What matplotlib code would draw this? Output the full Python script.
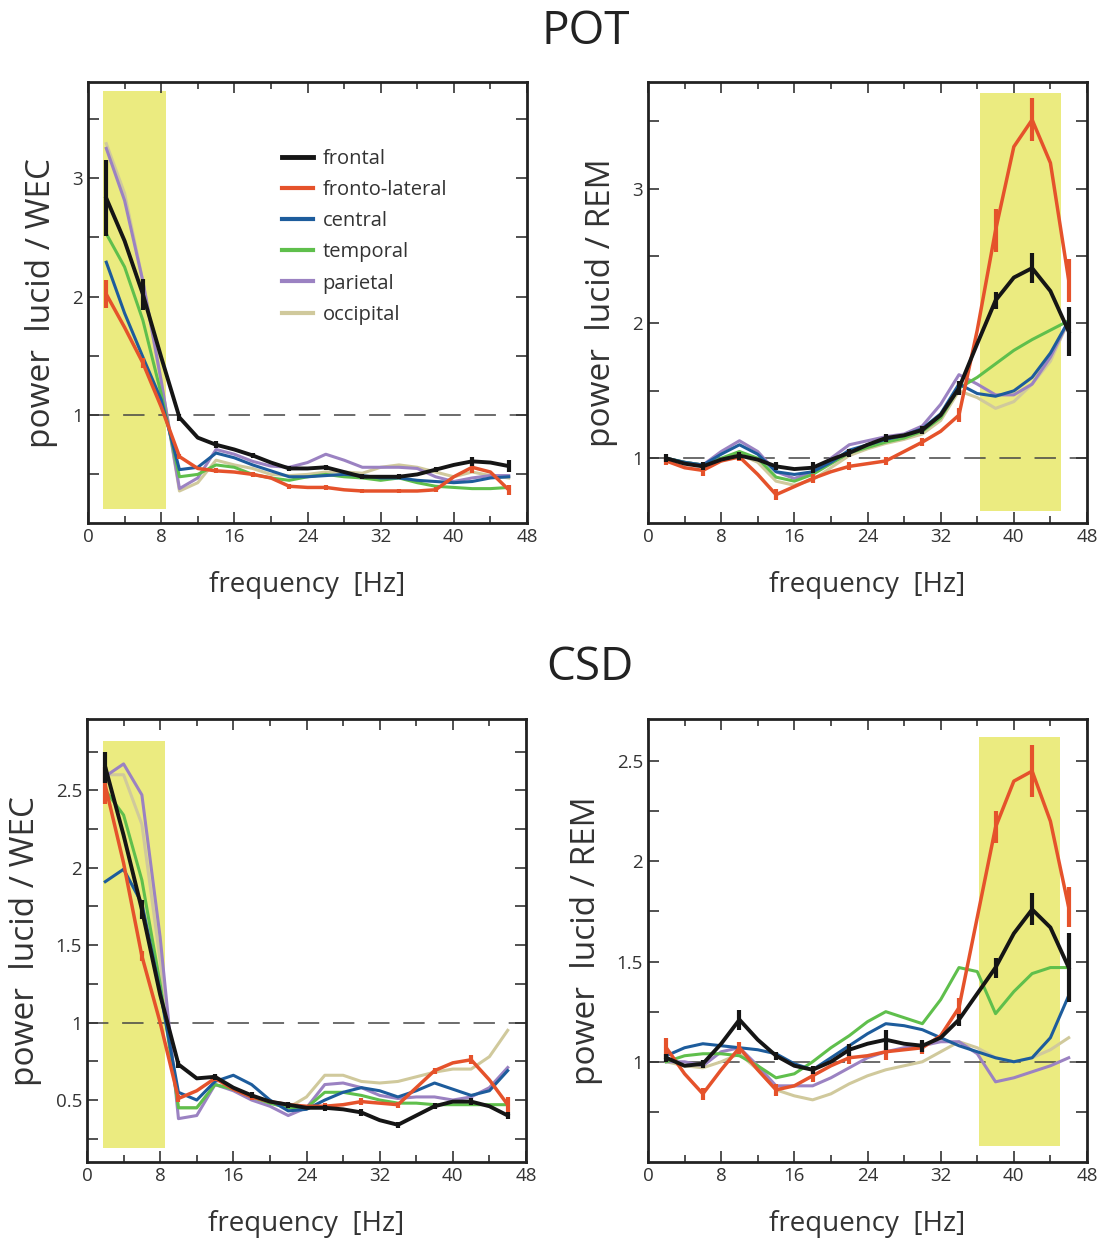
#!/usr/bin/env python3
"""
Spectral power ratios lucid vs WEC / REM, POT and CSD montages
"""
import matplotlib
matplotlib.use('Agg')
import matplotlib.pyplot as plt
from matplotlib.ticker import MultipleLocator, FixedLocator
from matplotlib.lines import Line2D

plt.rcParams['font.family'] = ['Open Sans', 'DejaVu Sans']

# frequency bins [Hz]
freq = [2, 4, 6, 8, 10, 12, 14, 16, 18, 20, 22, 24, 26, 28, 30, 32, 34, 36, 38, 40, 42, 44, 46]
# bins that carry error bars
err_freq = [2, 6, 10, 14, 18, 22, 26, 30, 34, 38, 42, 46]

regions = ['frontal', 'fronto-lateral', 'central', 'temporal', 'parietal', 'occipital']

# ---- POT, lucid / WEC
pot_wec_frontal = [2.83, 2.47, 2.02, 1.49, 0.98, 0.81, 0.75, 0.71, 0.66, 0.60, 0.55, 0.55, 0.56, 0.52, 0.48, 0.48, 0.48, 0.50, 0.54, 0.58, 0.61, 0.60, 0.57]
pot_wec_frontolat = [2.02, 1.74, 1.44, 1.07, 0.65, 0.55, 0.53, 0.52, 0.50, 0.47, 0.40, 0.39, 0.39, 0.37, 0.36, 0.36, 0.36, 0.36, 0.37, 0.48, 0.56, 0.52, 0.37]
pot_wec_central = [2.29, 1.86, 1.49, 1.13, 0.54, 0.56, 0.68, 0.64, 0.58, 0.53, 0.48, 0.48, 0.49, 0.50, 0.49, 0.47, 0.47, 0.45, 0.44, 0.43, 0.44, 0.47, 0.48]
pot_wec_temporal = [2.53, 2.25, 1.80, 1.18, 0.48, 0.50, 0.58, 0.56, 0.50, 0.47, 0.45, 0.48, 0.50, 0.48, 0.47, 0.45, 0.47, 0.43, 0.40, 0.39, 0.38, 0.38, 0.39]
pot_wec_parietal = [3.25, 2.81, 2.13, 1.29, 0.38, 0.47, 0.71, 0.67, 0.61, 0.57, 0.56, 0.60, 0.67, 0.62, 0.56, 0.56, 0.56, 0.55, 0.48, 0.44, 0.47, 0.49, 0.49]
pot_wec_occipital = [3.29, 2.87, 2.13, 1.29, 0.36, 0.43, 0.62, 0.58, 0.55, 0.50, 0.49, 0.50, 0.52, 0.52, 0.51, 0.56, 0.58, 0.56, 0.52, 0.48, 0.52, 0.49, 0.47]
pot_wec_frontal_err = [0.32, 0.13, 0.03, 0.03, 0.02, 0.02, 0.02, 0.02, 0.02, 0.02, 0.04, 0.05]
pot_wec_frontolat_err = [0.12, 0.04, 0.02, 0.02, 0.02, 0.02, 0.02, 0.02, 0.02, 0.02, 0.05, 0.04]

# ---- POT, lucid / REM
pot_rem_frontal = [1.00, 0.96, 0.94, 0.99, 1.02, 0.99, 0.94, 0.92, 0.93, 0.99, 1.04, 1.10, 1.15, 1.17, 1.21, 1.32, 1.52, 1.85, 2.17, 2.34, 2.41, 2.24, 1.94]
pot_rem_frontolat = [0.98, 0.93, 0.91, 0.98, 1.01, 0.88, 0.73, 0.79, 0.85, 0.90, 0.94, 0.96, 0.98, 1.05, 1.12, 1.20, 1.32, 1.95, 2.69, 3.31, 3.51, 3.19, 2.32]
pot_rem_central = [1.00, 0.97, 0.95, 1.03, 1.10, 1.03, 0.90, 0.88, 0.90, 0.97, 1.06, 1.10, 1.14, 1.17, 1.22, 1.33, 1.55, 1.48, 1.46, 1.50, 1.60, 1.78, 2.02]
pot_rem_temporal = [1.00, 0.97, 0.95, 1.00, 1.05, 1.00, 0.86, 0.83, 0.88, 0.96, 1.04, 1.08, 1.12, 1.15, 1.20, 1.30, 1.52, 1.60, 1.70, 1.80, 1.88, 1.95, 2.02]
pot_rem_parietal = [1.00, 0.97, 0.95, 1.05, 1.13, 1.05, 0.90, 0.85, 0.90, 1.00, 1.10, 1.13, 1.16, 1.18, 1.24, 1.40, 1.62, 1.55, 1.47, 1.47, 1.55, 1.75, 2.02]
pot_rem_occipital = [1.00, 0.97, 0.95, 0.98, 1.03, 0.97, 0.83, 0.80, 0.84, 0.93, 1.02, 1.07, 1.11, 1.14, 1.18, 1.28, 1.50, 1.45, 1.37, 1.42, 1.55, 1.72, 2.02]
pot_rem_frontal_err = [0.03, 0.03, 0.03, 0.03, 0.04, 0.03, 0.03, 0.03, 0.05, 0.06, 0.11, 0.18]
pot_rem_frontolat_err = [0.03, 0.04, 0.03, 0.04, 0.03, 0.03, 0.03, 0.03, 0.05, 0.16, 0.16, 0.16]

# ---- CSD, lucid / WEC
csd_wec_frontal = [2.65, 2.21, 1.73, 1.18, 0.73, 0.64, 0.65, 0.58, 0.53, 0.49, 0.47, 0.45, 0.45, 0.44, 0.42, 0.37, 0.34, 0.40, 0.46, 0.49, 0.49, 0.46, 0.40]
csd_wec_frontolat = [2.53, 2.03, 1.43, 1.00, 0.51, 0.56, 0.64, 0.57, 0.52, 0.49, 0.47, 0.46, 0.46, 0.47, 0.49, 0.48, 0.47, 0.58, 0.69, 0.74, 0.76, 0.63, 0.47]
csd_wec_central = [1.91, 1.99, 1.77, 1.20, 0.55, 0.50, 0.62, 0.66, 0.60, 0.50, 0.43, 0.44, 0.50, 0.55, 0.58, 0.56, 0.52, 0.56, 0.61, 0.57, 0.53, 0.56, 0.69]
csd_wec_temporal = [2.50, 2.34, 1.92, 1.25, 0.45, 0.45, 0.60, 0.57, 0.52, 0.48, 0.45, 0.45, 0.55, 0.55, 0.53, 0.50, 0.48, 0.48, 0.47, 0.47, 0.47, 0.47, 0.47]
csd_wec_parietal = [2.59, 2.67, 2.47, 1.55, 0.38, 0.40, 0.60, 0.56, 0.50, 0.46, 0.40, 0.45, 0.60, 0.61, 0.58, 0.53, 0.51, 0.52, 0.52, 0.50, 0.52, 0.58, 0.71]
csd_wec_occipital = [2.60, 2.60, 2.28, 1.40, 0.45, 0.45, 0.60, 0.57, 0.52, 0.48, 0.45, 0.52, 0.66, 0.66, 0.62, 0.61, 0.62, 0.65, 0.68, 0.70, 0.70, 0.78, 0.95]
csd_wec_frontal_err = [0.10, 0.06, 0.02, 0.02, 0.02, 0.02, 0.02, 0.02, 0.02, 0.02, 0.02, 0.02]
csd_wec_frontolat_err = [0.12, 0.03, 0.02, 0.02, 0.02, 0.02, 0.02, 0.02, 0.02, 0.02, 0.03, 0.05]

# ---- CSD, lucid / REM
csd_rem_frontal = [1.02, 0.98, 0.99, 1.09, 1.21, 1.11, 1.03, 0.98, 0.96, 1.00, 1.06, 1.09, 1.11, 1.09, 1.08, 1.12, 1.21, 1.34, 1.47, 1.64, 1.76, 1.67, 1.47]
csd_rem_frontolat = [1.07, 0.94, 0.84, 0.96, 1.07, 0.96, 0.86, 0.88, 0.93, 0.98, 1.02, 1.03, 1.05, 1.06, 1.07, 1.13, 1.27, 1.72, 2.17, 2.40, 2.45, 2.20, 1.77]
csd_rem_central = [1.03, 1.07, 1.09, 1.08, 1.07, 1.06, 1.04, 0.99, 0.96, 1.02, 1.08, 1.14, 1.19, 1.18, 1.16, 1.12, 1.08, 1.05, 1.02, 1.00, 1.02, 1.12, 1.33]
csd_rem_temporal = [1.00, 1.03, 1.04, 1.04, 1.03, 0.98, 0.92, 0.94, 1.00, 1.07, 1.13, 1.20, 1.25, 1.22, 1.19, 1.31, 1.47, 1.45, 1.24, 1.35, 1.44, 1.47, 1.47]
csd_rem_parietal = [1.00, 1.00, 0.98, 1.05, 1.07, 0.98, 0.88, 0.88, 0.88, 0.92, 0.97, 1.02, 1.05, 1.07, 1.08, 1.10, 1.10, 1.04, 0.90, 0.92, 0.95, 0.98, 1.02]
csd_rem_occipital = [1.00, 0.98, 0.97, 1.00, 1.04, 0.96, 0.86, 0.83, 0.81, 0.84, 0.89, 0.93, 0.96, 0.98, 1.00, 1.05, 1.10, 1.07, 1.02, 1.00, 1.02, 1.06, 1.12]
csd_rem_frontal_err = [0.02, 0.02, 0.05, 0.02, 0.02, 0.03, 0.05, 0.03, 0.03, 0.05, 0.08, 0.17]
csd_rem_frontolat_err = [0.05, 0.03, 0.03, 0.03, 0.03, 0.03, 0.04, 0.03, 0.05, 0.08, 0.13, 0.10]

colors = {
    'frontal': '#151515',
    'fronto-lateral': '#e5522b',
    'central': '#1d5c9c',
    'temporal': '#5fbf4c',
    'parietal': '#9b82c2',
    'occipital': '#d0c99c',
}
YELLOW = '#ebeb80'


def draw_panel(ax, series, errs, ylim, band, ylabel, yticks, ylabels):
    # highlighted band
    (x0, x1), (y0, y1) = band
    ax.fill_between([x0, x1], y0, y1, color=YELLOW, lw=0, zorder=0)
    ax.axhline(1, color='#444444', lw=1.1, dashes=(14, 9), zorder=1)

    for name in ['occipital', 'parietal', 'temporal', 'central']:
        ax.plot(freq, series[name], color=colors[name], lw=2.2, zorder=2,
                solid_joinstyle='round')
    for name in ['fronto-lateral', 'frontal']:
        vals = series[name]
        ax.plot(freq, vals, color=colors[name], lw=2.8 if name == 'frontal' else 2.5,
                zorder=3, solid_joinstyle='round')
        ax.errorbar(err_freq, vals[::2], yerr=errs[name], fmt='none',
                    ecolor=colors[name], elinewidth=3, capsize=0, zorder=3)

    ax.set_xlim(0, 48)
    ax.set_ylim(*ylim)
    ax.xaxis.set_major_locator(MultipleLocator(8))
    ax.xaxis.set_minor_locator(MultipleLocator(4))
    ax.yaxis.set_major_locator(FixedLocator(yticks))
    ax.set_yticklabels(ylabels)
    ax.tick_params(which='both', direction='in', top=True, right=True,
                   labelsize=13.5, labelcolor='#333333', width=1.2, color='#333333')
    ax.tick_params(which='major', length=8)
    ax.tick_params(which='minor', length=5)
    for sp in ax.spines.values():
        sp.set_linewidth(2)
        sp.set_color('#222222')
    ax.set_xlabel('frequency  [Hz]', fontsize=20, color='#333333', labelpad=18)
    ax.set_ylabel(ylabel, fontsize=24, color='#333333', labelpad=10)


def main():
    fig = plt.figure(figsize=(11.08, 12.43), dpi=100)
    W, H = 1108.0, 1243.0

    def add(left, top, right, bottom):
        return fig.add_axes([left / W, 1 - bottom / H, (right - left) / W, (bottom - top) / H])

    ax1 = add(88, 82, 527, 523)
    ax2 = add(648, 82, 1087, 523)
    ax3 = add(87, 719, 526, 1162)
    ax4 = add(648, 719, 1087, 1162)

    draw_panel(ax1,
               {'frontal': pot_wec_frontal, 'fronto-lateral': pot_wec_frontolat,
                'central': pot_wec_central, 'temporal': pot_wec_temporal,
                'parietal': pot_wec_parietal, 'occipital': pot_wec_occipital},
               {'frontal': pot_wec_frontal_err, 'fronto-lateral': pot_wec_frontolat_err},
               (0.09, 3.81), ((1.6, 8.5), (0.21, 3.73)), 'power  lucid / WEC',
               [0.5, 1, 1.5, 2, 2.5, 3, 3.5], ['', '1', '', '2', '', '3', ''])
    draw_panel(ax2,
               {'frontal': pot_rem_frontal, 'fronto-lateral': pot_rem_frontolat,
                'central': pot_rem_central, 'temporal': pot_rem_temporal,
                'parietal': pot_rem_parietal, 'occipital': pot_rem_occipital},
               {'frontal': pot_rem_frontal_err, 'fronto-lateral': pot_rem_frontolat_err},
               (0.52, 3.79), ((36.3, 45.2), (0.61, 3.71)), 'power  lucid / REM',
               [1, 1.5, 2, 2.5, 3, 3.5], ['1', '', '2', '', '3', ''])
    draw_panel(ax3,
               {'frontal': csd_wec_frontal, 'fronto-lateral': csd_wec_frontolat,
                'central': csd_wec_central, 'temporal': csd_wec_temporal,
                'parietal': csd_wec_parietal, 'occipital': csd_wec_occipital},
               {'frontal': csd_wec_frontal_err, 'fronto-lateral': csd_wec_frontolat_err},
               (0.10, 2.96), ((1.7, 8.5), (0.19, 2.82)), 'power  lucid / WEC',
               [0.25, 0.5, 0.75, 1, 1.25, 1.5, 1.75, 2, 2.25, 2.5, 2.75],
               ['', '0.5', '', '1', '', '1.5', '', '2', '', '2.5', ''])
    draw_panel(ax4,
               {'frontal': csd_rem_frontal, 'fronto-lateral': csd_rem_frontolat,
                'central': csd_rem_central, 'temporal': csd_rem_temporal,
                'parietal': csd_rem_parietal, 'occipital': csd_rem_occipital},
               {'frontal': csd_rem_frontal_err, 'fronto-lateral': csd_rem_frontolat_err},
               (0.50, 2.71), ((36.2, 45.1), (0.58, 2.62)), 'power  lucid / REM',
               [0.75, 1, 1.25, 1.5, 1.75, 2, 2.25, 2.5],
               ['', '1', '', '1.5', '', '2', '', '2.5'])

    # legend inside first panel
    handles = [Line2D([], [], color=colors[r], lw=3.5 if r == 'frontal' else 3) for r in regions]
    ax1.legend(handles, regions, loc='upper left', bbox_to_anchor=(0.415, 0.875),
               frameon=False, fontsize=14.5, handlelength=1.55, handletextpad=0.45,
               labelspacing=0.55, labelcolor='#333333', borderaxespad=0.2)

    fig.text(586 / W, 1 - 32 / H, 'POT', ha='center', va='center', fontsize=33, color='#222222')
    fig.text(590 / W, 1 - 668 / H, 'CSD', ha='center', va='center', fontsize=33, color='#222222')

    fig.savefig('out.png', dpi=100)
    plt.close(fig)


if __name__ == '__main__':
    main()
